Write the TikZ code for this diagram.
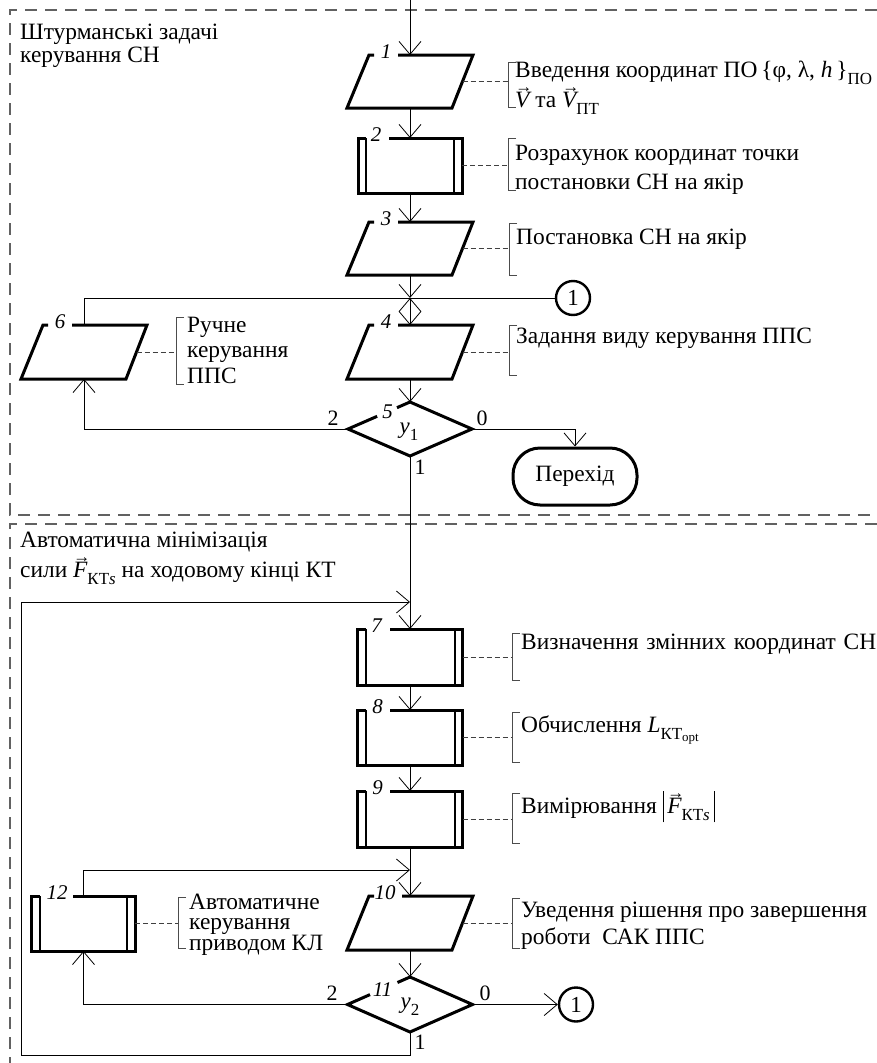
\documentclass[tikz,border=0pt]{standalone}
\usepackage{fontspec}
\setmainfont{Liberation Serif}
\usetikzlibrary{arrows.meta,calc,shapes.geometric}
\newcommand{\vv}[1]{{\setbox0=\hbox{\itshape #1}\rlap{\hbox to \wd0{\hss\kern3bp\raisebox{0.6em}{\fontsize{17}{17}\selectfont →}\hss}}\box0}}
\newcommand{\sbs}[1]{\raisebox{-0.32em}{\fontsize{17}{17}\selectfont #1}}
\newcommand{\paral}[4]{%
  \draw[blk] ([xshift=27bp]#1.north west) -- ([xshift=22bp]#1.north west) -- (#1.south west) -- ([xshift=-21bp]#1.south east) -- (#1.north east) -- ([xshift=#3]#1.north west);
  \node[lbl] (#1l) at ([xshift=#4,yshift=3bp]#1.north west) {#2};}
\newcommand{\proc}[4]{%
  \draw[blk] ([xshift=8bp]#1.north west) -- (#1.north west) -- (#1.south west) -- (#1.south east) -- (#1.north east) -- ([xshift=#3]#1.north west);
  \draw[inn] ([xshift=8bp]#1.north west) -- ([xshift=8bp]#1.south west) ([xshift=-8bp]#1.north east) -- ([xshift=-8bp]#1.south east);
  \node[lbl] (#1l) at ([xshift=#4,yshift=3bp]#1.north west) {#2};}
\newcommand{\decis}[5]{%
  \draw[blk] ($(#1.west)!#3!(#1.north)$) -- (#1.west) -- (#1.south) -- (#1.east) -- (#1.north) -- ($(#1.west)!#4!(#1.north)$);
  \node[lbl] (#1l) at ($(#1.west)!#5!(#1.north)$) {#2};}
\begin{document}
\begin{tikzpicture}[x=1bp,y=-1bp,
 conn/.style={line width=0.8bp},
 arr/.style={line width=0.8bp,-{Straight Barb[length=13bp,width=22bp]}},
 arr2/.style={line width=0.8bp,{Straight Barb[length=13bp,width=22bp]}-{Straight Barb[length=13bp,width=22bp]}},
 blk/.style={line width=3bp},
 inn/.style={line width=2bp},
 frm/.style={draw=black!62,line width=1.3bp,dash pattern=on 12bp off 8bp},
 cds/.style={draw=black!75,line width=0.8bp,dash pattern=on 5bp off 3bp},
 brk/.style={draw=black!70,line width=0.8bp},
 hold/.style={draw=none,inner sep=0pt,outer sep=0pt},
 lbl/.style={inner sep=0pt,font=\fontsize{21}{21}\selectfont\itshape},
 num/.style={inner sep=0pt,font=\fontsize{22}{22}\selectfont},
 txt/.style={inner sep=0pt,anchor=base west,font=\fontsize{23.5}{25}\selectfont},
 circ/.style={circle,draw,line width=2.4bp,minimum size=34bp,inner sep=0pt,font=\fontsize{23}{23}\selectfont},
 term/.style={rectangle,rounded corners=27bp,draw,line width=3bp,minimum width=124bp,minimum height=57bp,inner sep=0pt,font=\fontsize{23.5}{23.5}\selectfont},
]
\useasboundingbox (0,0) rectangle (877,1063);
% frames
\draw[frm] (877,10) -- (10,10) -- (10,515) -- (877,515);
\draw[frm] (877,524) -- (10,524) -- (10,1063);
% invisible holders
\node[hold,minimum width=126bp,minimum height=53bp] (b1) at (410,81.5) {};
\node[hold,minimum width=104bp,minimum height=55bp] (b2) at (410,165.5) {};
\node[hold,minimum width=126bp,minimum height=53bp] (b3) at (410,248.5) {};
\node[hold,minimum width=126bp,minimum height=54bp] (b4) at (410,352) {};
\node[hold,minimum width=126bp,minimum height=54bp] (b6) at (84,352) {};
\node[hold,diamond,minimum width=124bp,minimum height=54bp] (d5) at (410,429) {};
\node[term] (t) at (575,476.5) {Перехід};
\node[circ] (c1) at (573,298) {1};
\node[hold,minimum width=105bp,minimum height=56bp] (b7) at (410,657) {};
\node[hold,minimum width=105bp,minimum height=55bp] (b8) at (410,737.5) {};
\node[hold,minimum width=105bp,minimum height=56bp] (b9) at (410,819) {};
\node[hold,minimum width=126bp,minimum height=54bp] (b10) at (410,923) {};
\node[hold,minimum width=103bp,minimum height=55bp] (b12) at (83.5,923.5) {};
\node[hold,diamond,minimum width=125bp,minimum height=55bp] (d11) at (410,1004.5) {};
\node[circ] (c2) at (576,1004.5) {1};
% shapes
\paral{b1}{1}{51bp}{39bp}
\proc{b2}{2}{31bp}{18bp}
\paral{b3}{3}{51bp}{39bp}
\paral{b4}{4}{51bp}{39bp}
\paral{b6}{6}{51bp}{39bp}
\decis{d5}{5}{0.47}{0.79}{0.64}
\proc{b7}{7}{32bp}{19bp}
\proc{b8}{8}{32bp}{20bp}
\proc{b9}{9}{32bp}{20bp}
\paral{b10}{10}{55bp}{38bp}
\proc{b12}{12}{41bp}{25bp}
\decis{d11}{11}{0.36}{0.8}{0.56}
\node[inner sep=0pt,font=\fontsize{23}{23}\selectfont] (y1) at (409,432) {\textit{y}\sbs{1}};
\node[inner sep=0pt,font=\fontsize{23}{23}\selectfont] (y2) at (410,1007) {\textit{y}\sbs{2}};
% connectors
\coordinate (s0) at (410,0);
\coordinate (j1) at (410,298);
\coordinate (j2) at (410,602);
\coordinate (j3) at (410,870);
\coordinate (r1) at (410,1055);
\coordinate (r2) at (21,1055);
\draw[arr] (s0) -- (b1.north);
\draw[arr] (b1.south) -- (b2.north);
\draw[arr] (b2.south) -- (b3.north);
\draw[arr] (b3.south) -- (j1);
\draw[arr2] (j1) -- (b4.north);
\draw[conn] (c1.west) -- (j1);
\draw[conn] (b6.north) |- (j1);
\draw[arr] (b4.south) -- (d5.north);
\draw[arr] (d5.west) -| (b6.south);
\draw[arr] (d5.east) -| (t.north);
\draw[conn] (d5.south) -- (j2);
\draw[arr] (j2) -- (b7.north);
\draw[arr] (b7.south) -- (b8.north);
\draw[arr] (b8.south) -- (b9.north);
\draw[conn] (b9.south) -- (j3);
\draw[arr] (j3) -- (b10.north);
\draw[arr] (b12.north) |- (j3);
\draw[arr] (b10.south) -- (d11.north);
\draw[arr] (d11.west) -| (b12.south);
\draw[arr] (d11.east) -- (c2.west);
\draw[arr] (d11.south) -- (r1) -- (r2) |- (j2);
% branch numbers
\node[num] (n52) at (333,418) {2};
\node[num] (n50) at (482,418) {0};
\node[num] (n51) at (420,467) {1};
\node[num] (n112) at (332,993) {2};
\node[num] (n110) at (485,993) {0};
\node[num] (n111) at (420,1042) {1};
% comment leaders
\coordinate (q1) at (508,81.5);
\coordinate (q2) at (508,165.5);
\coordinate (q3) at (509,248.5);
\coordinate (q4) at (509,352);
\coordinate (q6) at (176,352);
\coordinate (q7) at (512,657);
\coordinate (q8) at (512,737.5);
\coordinate (q9) at (512,819);
\coordinate (q10) at (512,923);
\coordinate (q12) at (178,923.5);
\draw[cds] ([xshift=-10.5bp]b1.east) -- (q1);
\draw[cds] (b2.east) -- (q2);
\draw[cds] ([xshift=-10.5bp]b3.east) -- (q3);
\draw[cds] ([xshift=-10.5bp]b4.east) -- (q4);
\draw[cds] ([xshift=-10.5bp]b6.east) -- (q6);
\draw[cds] (b7.east) -- (q7);
\draw[cds] (b8.east) -- (q8);
\draw[cds] (b9.east) -- (q9);
\draw[cds] ([xshift=-10.5bp]b10.east) -- (q10);
\draw[cds] (b12.east) -- (q12);
% brackets
\draw[brk] (516,62) -- (508,62) -- (508,107) -- (516,107);
\draw[brk] (516,138) -- (508,138) -- (508,190) -- (516,190);
\draw[brk] (517,223) -- (509,223) -- (509,275) -- (517,275);
\draw[brk] (517,325) -- (509,325) -- (509,375) -- (517,375);
\draw[brk] (184,317) -- (176,317) -- (176,384) -- (184,384);
\draw[brk] (520,633) -- (512,633) -- (512,680) -- (520,680);
\draw[brk] (520,712) -- (512,712) -- (512,762) -- (520,762);
\draw[brk] (520,793) -- (512,793) -- (512,843) -- (520,843);
\draw[brk] (520,898) -- (512,898) -- (512,948) -- (520,948);
\draw[brk] (186,897) -- (178,897) -- (178,948) -- (186,948);
% texts
\node[txt] (h1a) at (20,39) {Штурманські задачі};
\node[txt] (h1b) at (20,62) {керування СН};
\node[txt] (h2a) at (20,547) {Автоматична мінімізація};
\node[txt] (h2b) at (20,577) {сили \vv{F}\sbs{КТ\textit{s}} на ходовому кінці КТ};
\node[txt] (k1a) at (515,77) {Введення координат ПО\,\{φ, λ, \textit{h}\,\}\sbs{ПО}};
\node[txt] (k1b) at (515,107) {\vv{V} та \vv{V}\sbs{ПТ}};
\node[txt] (k2a) at (515,160) {Розрахунок координат точки};
\node[txt] (k2b) at (515,189) {постановки СН на якір};
\node[txt] (k3a) at (516,244) {Постановка СН на якір};
\node[txt] (k4a) at (516,343) {Задання виду керування ППС};
\node[txt] (k6a) at (187,332) {Ручне};
\node[txt] (k6b) at (187,357) {керування};
\node[txt] (k6c) at (187,383) {ППС};
\node[txt] (k7a) at (521,649) {\makebox[355bp][s]{Визначення змінних координат СН}};
\node[txt] (k8a) at (521,732) {Обчислення \textit{L}\sbs{КТ\raisebox{-0.1em}{\fontsize{13}{13}\selectfont opt}}};
\node[txt] (k9a) at (521,813) {Вимірювання \rule[-0.4em]{0.7bp}{1.35em}\,\vv{F}\sbs{КТ\textit{s}}\,\rule[-0.4em]{0.7bp}{1.35em}};
\node[txt] (k10a) at (521,917) {Уведення рішення про завершення};
\node[txt] (k10b) at (521,944) {роботи\ \ САК ППС};
\node[txt] (k12a) at (189,909) {Автоматичне};
\node[txt] (k12b) at (189,929.5) {керування};
\node[txt] (k12c) at (189,950) {приводом КЛ};
\end{tikzpicture}
\end{document}
